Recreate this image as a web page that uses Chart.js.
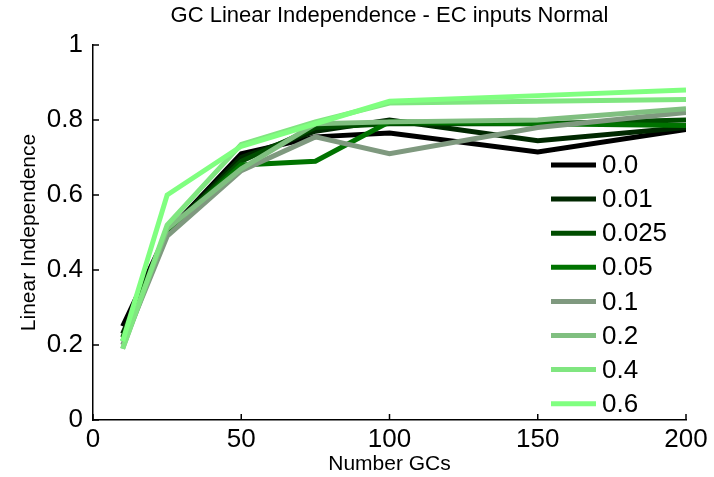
<!DOCTYPE html>
<html>
<head>
<meta charset="utf-8">
<script src="https://cdn.jsdelivr.net/npm/chart.js@4"></script>
<style>
  html, body { margin: 0; padding: 0; background: #fff; }
  #wrap { width: 714px; height: 477px; }
</style>
</head>
<body>
<div id="wrap"><canvas id="chart" width="714" height="477"></canvas></div>
<script>
// --- Datos ---
const numberGCs = [10, 25, 50, 75, 100, 150, 200];
const noiseLabels = ['0.0', '0.01', '0.025', '0.05', '0.1', '0.2', '0.4', '0.6'];
const lineColors = ['#000000', '#002800', '#004d00', '#007300', '#7f997f', '#80bf80', '#80e680', '#80ff80'];

const li_00   = [0.25, 0.50, 0.71, 0.755, 0.765, 0.715, 0.775];
const li_001  = [0.23, 0.50, 0.70, 0.77, 0.80, 0.745, 0.78];
const li_0025 = [0.22, 0.50, 0.69, 0.78, 0.79, 0.79, 0.80];
const li_005  = [0.21, 0.50, 0.68, 0.69, 0.795, 0.79, 0.785];
const li_01   = [0.20, 0.49, 0.665, 0.755, 0.71, 0.78, 0.82];
const li_02   = [0.19, 0.51, 0.67, 0.79, 0.795, 0.80, 0.83];
const li_04   = [0.19, 0.52, 0.735, 0.795, 0.845, 0.85, 0.855];
const li_06   = [0.21, 0.60, 0.73, 0.79, 0.85, 0.865, 0.88];
const allSeries = [li_00, li_001, li_0025, li_005, li_01, li_02, li_04, li_06];

const xTicks = [0, 50, 100, 150, 200];
const yTicks = [0, 0.2, 0.4, 0.6, 0.8, 1];

const FONT = "'Liberation Sans', Arial, sans-serif";

// --- Ticks hacia dentro, titulo y leyenda (estilo matlab) ---
const matlabStyle = {
  id: 'matlabStyle',
  afterDraw(chart) {
    const ctx = chart.ctx;
    const area = chart.chartArea;
    const xs = chart.scales.x, ys = chart.scales.y;
    ctx.save();
    ctx.strokeStyle = '#000';
    ctx.lineWidth = 1.5;
    ctx.beginPath();
    xTicks.forEach(v => {
      const px = xs.getPixelForValue(v);
      ctx.moveTo(px, area.bottom);
      ctx.lineTo(px, area.bottom - 6);
    });
    yTicks.forEach(v => {
      const py = ys.getPixelForValue(v);
      ctx.moveTo(area.left, py);
      ctx.lineTo(area.left + 6, py);
    });
    ctx.stroke();

    // titulo
    ctx.fillStyle = '#000';
    ctx.font = '22px ' + FONT;
    ctx.textAlign = 'center';
    ctx.textBaseline = 'middle';
    ctx.fillText('GC Linear Independence - EC inputs Normal', (area.left + area.right) / 2, 16);

    // leyenda
    ctx.font = '26px ' + FONT;
    ctx.textAlign = 'left';
    chart.data.datasets.forEach((ds, i) => {
      const y = 165 + i * 34.1;
      ctx.strokeStyle = ds.borderColor;
      ctx.lineWidth = 5;
      ctx.beginPath();
      ctx.moveTo(551, y);
      ctx.lineTo(596, y);
      ctx.stroke();
      ctx.fillText(ds.label, 602, y + 1);
    });
    ctx.restore();
  }
};

const datasets = allSeries.map((vals, i) => ({
  label: noiseLabels[i],
  data: numberGCs.map((x, j) => ({ x: x, y: vals[j] })),
  borderColor: lineColors[i],
  backgroundColor: lineColors[i],
  borderWidth: 5,
  borderJoinStyle: 'miter',
  pointRadius: 0,
  tension: 0,
  order: allSeries.length - 1 - i
}));

new Chart(document.getElementById('chart'), {
  type: 'line',
  data: { datasets: datasets },
  plugins: [matlabStyle],
  options: {
    responsive: false,
    animation: false,
    layout: { padding: { top: 45, right: 28, left: 0, bottom: 0 } },
    plugins: {
      legend: { display: false },
      title: { display: false },
      tooltip: { enabled: false }
    },
    scales: {
      x: {
        type: 'linear',
        min: 0,
        max: 200,
        afterFit: s => { s.height = 57; },
        afterBuildTicks: s => { s.ticks = xTicks.map(v => ({ value: v })); },
        grid: { display: true, drawOnChartArea: false, drawTicks: false },
        border: { display: true, color: '#000', width: 1.5 },
        ticks: { color: '#000', font: { family: FONT, size: 26 }, padding: 4, maxRotation: 0 },
        title: { display: true, text: 'Number GCs', color: '#000', font: { family: FONT, size: 21 }, padding: { top: 0, bottom: 0 } }
      },
      y: {
        type: 'linear',
        min: 0,
        max: 1,
        afterFit: s => { s.width = 93; },
        afterBuildTicks: s => { s.ticks = yTicks.map(v => ({ value: v })); },
        grid: { display: true, drawOnChartArea: false, drawTicks: false },
        border: { display: true, color: '#000', width: 1.5 },
        ticks: {
          color: '#000', font: { family: FONT, size: 26 }, padding: 10,
          callback: v => (v === 0 || v === 1) ? String(v) : v.toFixed(1)
        },
        title: { display: true, text: 'Linear Independence', color: '#000', font: { family: FONT, size: 21 }, padding: { top: 17, bottom: 0 } }
      }
    }
  }
});
</script>
</body>
</html>
